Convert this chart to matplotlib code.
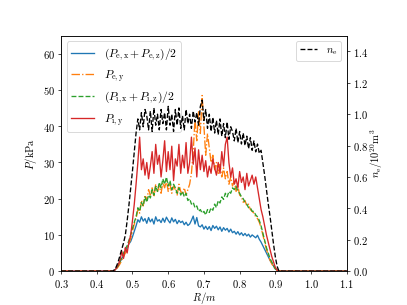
import numpy as np
import matplotlib
matplotlib.use('Agg')
import matplotlib.pyplot as plt

plt.rcParams['font.family'] = 'serif'
plt.rcParams['font.serif'] = ['cmr10']
plt.rcParams['mathtext.fontset'] = 'cm'
plt.rcParams['axes.formatter.use_mathtext'] = True
plt.rcParams['font.size'] = 12

# 径向网格 R/m，两端补零
R_core = np.round(np.arange(0.44, 0.9201, 0.005), 3)
R = np.concatenate([[0.3], R_core, [1.1]])

# (Pe,x + Pe,z)/2  [kPa]
pe_xz = [0, 0, 0.2, 0.8, 1.5, 2.5, 3.5, 4.2, 5.5, 6.5,
         7.5, 8.2, 9.5, 11.0, 12.5, 14.2, 13.5, 15.0, 13.8, 14.5,
         13.2, 14.8, 13.6, 14.4, 13.0, 15.0, 13.8, 14.2, 13.4, 14.6,
         13.5, 14.9, 14.0, 13.3, 14.7, 13.6, 14.3, 13.1, 14.0, 13.4,
         13.8, 12.8, 13.5, 12.6, 13.0, 14.0, 15.2, 13.0, 14.8, 12.5,
         12.2, 12.8, 11.6, 12.4, 11.5, 12.3, 11.2, 12.6, 11.8, 12.4,
         11.4, 12.2, 11.0, 12.0, 11.3, 11.8, 10.8, 11.6, 10.6, 11.0,
         10.2, 10.9, 10.0, 10.6, 9.8, 10.4, 9.7, 10.2, 9.4, 10.0,
         9.6, 9.2, 9.9, 8.8, 8.0, 7.0, 6.0, 5.0, 4.0, 3.0,
         2.2, 1.4, 0.6, 0.2, 0, 0, 0]

# Pe,y
pe_y = [0, 0, 0.1, 0.6, 1.2, 2.0, 3.0, 4.0, 5.0, 6.0,
        7.5, 9.0, 11.0, 13.0, 14.5, 17.0, 16.0, 19.5, 18.0, 21.0,
        19.5, 22.5, 21.0, 23.0, 20.5, 24.0, 22.0, 23.5, 21.5, 24.5,
        23.0, 25.0, 22.0, 24.0, 21.5, 23.5, 22.5, 21.0, 24.0, 22.0,
        21.5, 23.0, 21.0, 22.5, 24.0, 27.0, 33.0, 42.0, 36.0, 44.0,
        38.0, 48.5, 40.0, 32.0, 38.0, 34.0, 30.0, 32.0, 28.0, 30.0,
        27.0, 29.5, 26.0, 28.5, 25.5, 27.5, 24.0, 26.0, 23.5, 25.0,
        22.0, 23.5, 21.0, 20.5, 19.0, 19.5, 18.0, 18.5, 17.0, 16.5,
        16.0, 15.0, 14.5, 13.5, 12.0, 10.0, 8.0, 6.0, 4.5, 3.0,
        2.0, 1.2, 0.5, 0.2, 0, 0, 0]

# (Pi,x + Pi,z)/2
pi_xz = [0, 0, 0.2, 0.8, 1.5, 2.6, 3.8, 5.0, 6.2, 7.0,
         8.5, 10.0, 11.8, 13.5, 15.0, 17.5, 16.5, 19.0, 18.0, 20.5,
         19.0, 21.0, 20.2, 22.5, 21.0, 23.5, 22.0, 24.5, 23.0, 25.5,
         24.0, 26.0, 23.5, 25.0, 22.5, 24.0, 23.0, 21.5, 23.0, 21.0,
         22.0, 20.5, 21.5, 19.5, 20.0, 18.5, 19.0, 17.5, 18.0, 16.5,
         17.0, 16.0, 16.5, 15.5, 17.0, 16.2, 17.5, 16.8, 18.5, 17.5,
         19.5, 18.8, 20.5, 19.8, 21.5, 20.5, 22.0, 21.5, 23.0, 22.5,
         23.5, 22.0, 21.5, 20.5, 20.0, 19.0, 18.5, 17.5, 17.5, 16.5,
         16.5, 15.5, 15.0, 14.0, 12.5, 10.5, 8.5, 6.5, 5.0, 3.5,
         2.5, 1.5, 0.6, 0.2, 0, 0, 0]

# Pi,y
pi_y = [0, 0, 0.2, 0.8, 1.8, 3.0, 5.5, 3.5, 6.5, 5.0,
        8.0, 10.0, 14.0, 18.5, 24.0, 30.0, 37.0, 28.0, 31.0, 26.5,
        30.0, 25.5, 29.0, 33.0, 27.0, 35.0, 29.5, 32.0, 26.0, 30.5,
        36.0, 27.5, 33.0, 28.0, 34.5, 25.0, 31.0, 29.0, 35.0, 27.0,
        32.0, 28.5, 35.5, 27.0, 30.0, 37.0, 29.5, 34.0, 26.0, 33.5,
        28.0, 32.0, 27.5, 30.5, 26.0, 29.0, 27.0, 31.0, 28.5, 26.5,
        30.0, 27.0, 33.0, 29.0, 35.0, 37.0, 30.0, 26.0, 28.5, 24.0,
        25.5, 23.0, 27.5, 24.5, 26.0, 22.5, 27.0, 23.5, 25.0, 26.5,
        24.0, 26.0, 23.0, 20.0, 17.0, 15.0, 12.5, 10.0, 8.0, 6.0,
        4.0, 2.5, 1.0, 0.3, 0, 0, 0]

# ne [10^20 m^-3]
ne = [0, 0, 0.01, 0.03, 0.06, 0.10, 0.14, 0.18, 0.23, 0.32,
      0.42, 0.53, 0.64, 0.76, 0.88, 0.97, 0.90, 1.01, 0.92, 1.03,
      0.99, 0.90, 1.02, 0.89, 1.04, 0.93, 1.00, 0.90, 1.03, 0.94,
      1.01, 0.90, 1.05, 0.93, 1.00, 0.89, 1.03, 0.93, 1.04, 0.91,
      0.99, 0.90, 1.03, 0.94, 1.00, 0.91, 1.02, 0.95, 1.01, 0.93,
      1.05, 1.09, 0.96, 1.03, 0.91, 1.00, 0.89, 0.98, 0.88, 0.96,
      0.87, 0.97, 0.86, 0.94, 0.85, 0.95, 0.84, 0.92, 0.89, 0.83,
      0.91, 0.82, 0.89, 0.81, 0.88, 0.80, 0.86, 0.78, 0.85, 0.77,
      0.83, 0.76, 0.81, 0.75, 0.77, 0.69, 0.61, 0.52, 0.43, 0.35,
      0.26, 0.17, 0.09, 0.03, 0, 0, 0]


def pad(v):
    return np.concatenate([[0], v, [0]])


fig = plt.figure(figsize=(6.4, 4.8), dpi=63.6)
ax = fig.add_subplot(111)
fig.subplots_adjust(left=0.15, right=0.852, top=0.882, bottom=0.111)

ax.plot(R, pad(pe_xz), '-', color='C0', label=r'$(P_{\rm e,x}+P_{\rm e,z})/2$')
ax.plot(R, pad(pe_y), '-.', color='C1', label=r'$P_{\rm e,y}$')
ax.plot(R, pad(pi_xz), '--', color='C2', label=r'$(P_{\rm i,x}+P_{\rm i,z})/2$')
ax.plot(R, pad(pi_y), '-', color='C3', label=r'$P_{\rm i,y}$')
ax.set_xlim(0.3, 1.1)
ax.set_ylim(0, 65)
ax.set_xlabel(r'$R/m$', labelpad=0)
ax.set_ylabel(r'$P/\mathrm{kPa}$')
ax.legend(loc='upper left', fontsize=13)

ax2 = ax.twinx()
ax2.plot(R, pad(ne), '--', color='k', label=r'$n_{\rm e}$')
ax2.set_ylim(0, 1.5)
ax2.set_ylabel(r'$n_{\rm e}/10^{20}\mathrm{m}^3$', labelpad=0)
ax2.legend(loc='upper right', fontsize=12, handlelength=1.6)

plt.savefig('out.png')
